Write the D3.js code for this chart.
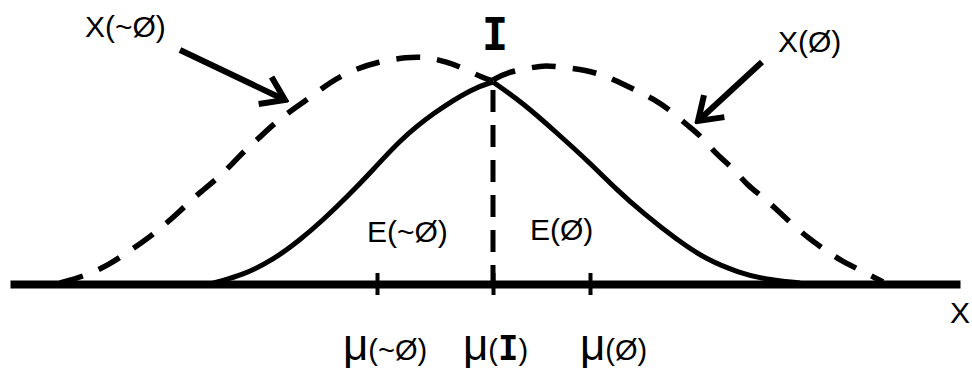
<!DOCTYPE html>
<html>
<head>
<meta charset="utf-8">
<script src="https://cdn.jsdelivr.net/npm/d3@7"></script>
<style>
  body { margin: 0; background: #fff; }
  svg { display: block; }
  text { font-family: "Liberation Sans", Arial, sans-serif; fill: #000; }
  .mono { font-family: "DejaVu Sans Mono", monospace; font-weight: bold; }
</style>
</head>
<body>
<div id="chart"></div>
<script>
// curves, [x, height]
const notPhiCurve = [
  [5.0, 0.1], [7.8, 0.9], [10.0, 2.0], [11.8, 3.2], [14.3, 4.9], [16.8, 7.1],
  [19.0, 9.2], [21.2, 10.9], [23.0, 12.9], [24.7, 14.4], [27.0, 16.6], [29.7, 18.4],
  [32.0, 20.2], [34.3, 21.4], [36.7, 22.2], [39.7, 22.7], [41.7, 22.7], [43.7, 22.2],
  [45.3, 21.6], [47.3, 20.6], [48.3, 20.3]
];
const phiCurve = [
  [48.3, 20.4], [49.8, 21.2], [52.0, 21.6], [53.5, 21.9], [55.8, 21.6], [57.5, 21.4],
  [59.3, 20.9], [60.7, 20.3], [62.5, 19.4], [64.2, 18.6], [66.0, 17.4], [67.7, 15.9],
  [69.2, 14.7], [70.7, 12.9], [72.3, 11.6], [73.7, 9.9], [75.3, 8.7], [76.7, 7.4],
  [78.0, 6.2], [79.8, 4.6], [81.8, 3.2], [83.0, 2.4], [85.0, 1.4], [87.3, 0.2]
];
const intersectCurve = [
  [20.0, 0.0], [20.7, 0.2], [23.3, 0.9], [26.3, 2.4], [29.0, 4.4], [31.3, 6.4],
  [33.7, 8.7], [36.3, 11.4], [39.0, 14.4], [42.3, 17.1], [46.3, 19.6], [48.3, 20.2],
  [51.3, 18.1], [54.7, 15.1], [58.0, 12.1], [60.7, 9.4], [63.3, 7.1], [66.7, 4.4],
  [69.7, 2.4], [73.0, 1.1], [75.3, 0.5], [79.0, 0.1]
];

// means on the x axis
const muNames = ["~Ø", "I", "Ø"];
const muValues = [36.7, 48.3, 58.0];
const muLabelX = [33.3, 45.3, 57.0];

// labels and arrows
const curveLabels = [
  {text: "X(~Ø)", x: 7.5, y: 24.7},
  {text: "X(Ø)", x: 76.8, y: 23.2},
  {text: "E(~Ø)", x: 35.7, y: 4.2},
  {text: "E(Ø)", x: 52.0, y: 4.4}
];
const arrows = [
  {from: [17.0, 23.4], to: [27.5, 18.4]},
  {from: [75.2, 22.2], to: [68.8, 16.3]}
];

const width = 972;
const height = 382;

const x = d3.scaleLinear().domain([0, 95]).range([10, 960]);
const y = d3.scaleLinear().domain([0, 23]).range([284, 54]);

const svg = d3.select("#chart").append("svg")
    .attr("width", width)
    .attr("height", height)
    .attr("viewBox", [0, 0, width, height]);

svg.append("rect").attr("width", width).attr("height", height).attr("fill", "#fff");

svg.append("defs").append("marker")
    .attr("id", "head")
    .attr("markerUnits", "userSpaceOnUse")
    .attr("viewBox", "-30 -20 34 40")
    .attr("markerWidth", 34)
    .attr("markerHeight", 40)
    .attr("refX", 0)
    .attr("refY", 0)
    .attr("orient", "auto")
  .append("path")
    .attr("d", "M-22,-15L0,0L-22,15")
    .attr("fill", "none")
    .attr("stroke", "#000")
    .attr("stroke-width", 6);

const line = d3.line()
    .x(d => x(d[0]))
    .y(d => y(d[1]))
    .curve(d3.curveBasis);

// x axis
const axis = svg.append("g")
    .attr("transform", `translate(0,${y(0)})`)
    .call(d3.axisBottom(x)
      .tickValues(muValues)
      .tickSizeOuter(0)
      .tickFormat(() => ""));
axis.select(".domain")
    .attr("stroke", "#000")
    .attr("stroke-width", 8);
axis.selectAll(".tick line")
    .attr("stroke", "#000")
    .attr("stroke-width", 4)
    .attr("y1", -11)
    .attr("y2", 11);

// dashed curves
[notPhiCurve, phiCurve].forEach(c => {
  svg.append("path")
      .attr("d", line(c))
      .attr("fill", "none")
      .attr("stroke", "#000")
      .attr("stroke-width", 5.5)
      .attr("stroke-dasharray", "24,17");
});

// solid curve, drawn in two halves so the peak stays sharp
const muI = muValues[1];
[intersectCurve.filter(d => d[0] <= muI), intersectCurve.filter(d => d[0] >= muI)].forEach(c => {
  svg.append("path")
      .attr("d", line(c))
      .attr("fill", "none")
      .attr("stroke", "#000")
      .attr("stroke-width", 5);
});

// vertical dashed line at mu(I)
svg.append("line")
    .attr("x1", x(muI)).attr("x2", x(muI))
    .attr("y1", y(19.4)).attr("y2", y(0))
    .attr("stroke", "#000")
    .attr("stroke-width", 5)
    .attr("stroke-dasharray", "22,13");

// arrows
svg.append("g")
  .selectAll("line")
  .data(arrows)
  .join("line")
    .attr("x1", d => x(d.from[0]))
    .attr("y1", d => y(d.from[1]))
    .attr("x2", d => x(d.to[0]))
    .attr("y2", d => y(d.to[1]))
    .attr("stroke", "#000")
    .attr("stroke-width", 6)
    .attr("marker-end", "url(#head)");

// labels
svg.append("g")
  .selectAll("text")
  .data(curveLabels)
  .join("text")
    .attr("x", d => x(d.x))
    .attr("y", d => y(d.y))
    .style("font-size", "30px")
    .text(d => d.text);

svg.append("text")
    .attr("class", "mono")
    .attr("x", x(48.5))
    .attr("y", y(23.4))
    .attr("text-anchor", "middle")
    .style("font-size", "44px")
    .text("I");

const muText = svg.append("g")
  .selectAll("text")
  .data(muNames)
  .join("text")
    .attr("x", (d, i) => x(muLabelX[i]))
    .attr("y", 360);
muText.append("tspan").style("font-size", "44px").text("μ");
muText.append("tspan").style("font-size", "29px").text("(");
muText.append("tspan")
    .attr("class", d => d === "I" ? "mono" : null)
    .style("font-size", d => d === "I" ? "34px" : "29px")
    .text(d => d);
muText.append("tspan").style("font-size", "29px").text(")");

svg.append("text")
    .attr("x", x(94.0))
    .attr("y", y(-3.9))
    .style("font-size", "30px")
    .text("X");
</script>
</body>
</html>
